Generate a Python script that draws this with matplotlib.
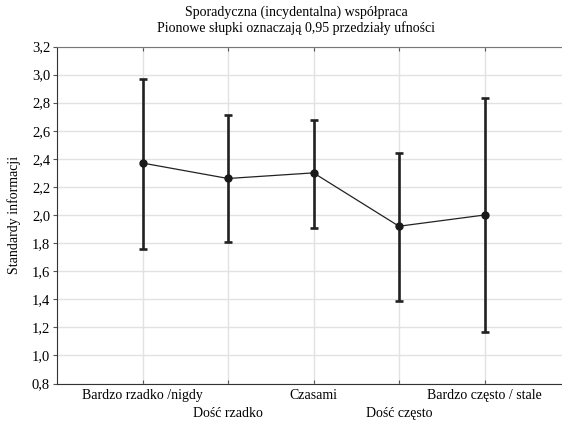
import matplotlib
matplotlib.use("Agg")
import matplotlib.pyplot as plt
import numpy as np

plt.rcParams["font.family"] = ["Liberation Serif", "DejaVu Serif"]

# ── dane ──────────────────────────────────────────────────────────────────
categories = ["Bardzo rzadko /nigdy", "Dość rzadko", "Czasami",
              "Dość często", "Bardzo często / stale"]
means = [2.37, 2.26, 2.30, 1.92, 2.00]
ci_low = [1.76, 1.81, 1.91, 1.39, 1.17]
ci_high = [2.97, 2.71, 2.68, 2.44, 2.83]
y_ticks = [0.8, 1.0, 1.2, 1.4, 1.6, 1.8, 2.0, 2.2, 2.4, 2.6, 2.8, 3.0, 3.2]

W, H = 562, 422
fig = plt.figure(figsize=(W / 100, H / 100), dpi=100)
ax = fig.add_axes([57 / W, 1 - 383.5 / H, (W - 57) / W, (383.5 - 46.5) / H])

x = np.arange(1, len(categories) + 1)
m = np.array(means)
err = [m - np.array(ci_low), np.array(ci_high) - m]

ax.errorbar(x, m, yerr=err, fmt="none", ecolor="#222222", elinewidth=1.9,
            capsize=3, capthick=1.9, zorder=3)
ax.plot(x, m, "-", color="#222222", lw=0.9, zorder=4)
ax.plot(x, m, "o", color="#1a1a1a", markersize=5, zorder=5)

ax.set_xlim(0, (W - 57) / 85.5)
ax.set_ylim(0.8, 3.2)
ax.set_xticks(x)
ax.set_xticklabels([c if i % 2 == 0 else "\n" + c
                    for i, c in enumerate(categories)], fontsize=10,
                   linespacing=1.45)
ax.set_yticks(y_ticks)
ax.set_yticklabels([f"{v:.1f}".replace(".", ",") for v in y_ticks],
                   fontsize=10.5)
ax.grid(True, color="#e2e2e2", lw=1.0, zorder=0)
ax.set_axisbelow(True)

ax.spines["right"].set_visible(False)
ax.spines["top"].set_color("#777777")
ax.spines["left"].set_color("#333333")
ax.spines["bottom"].set_color("#333333")
ax.tick_params(axis="both", length=3, width=0.8, color="#555555", pad=2)
ax.tick_params(axis="x", top=True, direction="in", length=3)
ax.tick_params(axis="x", bottom=True, pad=4)

ax.set_ylabel("Standardy informacji", fontsize=10, labelpad=8)

fig.text(296 / W, 1 - 12 / H, "Sporadyczna (incydentalna) współpraca",
         ha="center", va="center", fontsize=10)
fig.text(296 / W, 1 - 28 / H, "Pionowe słupki oznaczają 0,95 przedziały ufności",
         ha="center", va="center", fontsize=10)

fig.savefig("out.png", dpi=100)
